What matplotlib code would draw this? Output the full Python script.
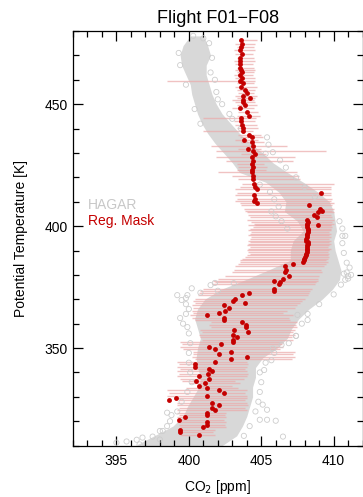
import numpy as np
import matplotlib
matplotlib.use("Agg")
import matplotlib.pyplot as plt
from matplotlib.ticker import MultipleLocator

plt.rcParams['font.family'] = ['Liberation Sans', 'DejaVu Sans']

# HAGAR cloud: dense core outline (theta, left / right CO2 edge)
env_theta = [478, 474, 470, 466, 462, 458, 454, 450, 446, 442, 438, 434, 430, 426,
             422, 418, 414, 410, 406, 402, 398, 394, 390, 386, 382, 378, 374, 370,
             366, 362, 358, 354, 350, 346, 342, 338, 334, 330, 326, 322, 318, 314, 310]
env_left = [400.1, 399.6, 399.4, 399.5, 399.8, 400.1, 400.2, 400.4, 400.6, 400.9, 401.3, 401.8, 402.4, 403.0,
            403.5, 405.3, 406.2, 406.7, 406.6, 407.5, 407.9, 407.2, 407.0, 407.0, 405.5, 403.9, 402.2, 401.1,
            400.6, 400.4, 400.6, 400.8, 400.6, 400.5, 400.6, 400.8, 400.7, 400.3, 399.9, 399.6, 398.9, 397.6, 396.3]
env_right = [401.0, 401.3, 401.5, 401.2, 401.2, 401.4, 401.6, 401.9, 402.3, 402.9, 403.5, 404.2, 405.1, 405.8,
             406.8, 407.9, 408.9, 409.7, 410.0, 410.1, 410.2, 410.0, 410.1, 410.3, 410.5, 410.4, 409.9, 409.2,
             408.3, 407.6, 407.1, 406.8, 406.1, 405.1, 404.6, 404.6, 404.4, 404.4, 404.2, 404.0, 403.7, 403.3, 402.3]

# HAGAR sparse points around the core
hagar_theta = [478, 477, 475, 471, 469, 466, 463, 460, 458, 455, 452, 450, 448, 446, 444, 442, 440,
               436.4, 433.4, 430.3, 429.7, 427, 424, 420, 416, 412,
               402, 399, 396, 381, 379.5, 378, 380.5,
               371.7, 369.7, 375.8, 376.7, 376.6, 371.7, 372.7, 373.5, 374.5, 370.5,
               362.3, 358.6, 361.5, 363.6, 351.3, 349.8, 355, 345, 341,
               320.6, 320.6, 320.2, 313.7, 324.7, 326.8, 312.4, 313.3, 323.5, 322.5,
               311.2, 311.7, 313.7, 310.5, 312.5, 316, 318,
               396, 393, 389, 385, 383, 380, 378.5, 376, 372, 368, 364, 360, 355, 352,
               404, 406, 408, 411, 414, 417, 420, 402, 399,
               368, 366, 364, 360, 356, 352, 348, 344, 340, 336, 332, 328, 324, 320, 316,
               348, 344, 340, 336, 332, 328, 324, 318, 314]
hagar_co2 = [400.3, 401.0, 401.4, 399.3, 401.6, 399.4, 401.5, 401.8, 399.8, 401.9, 402.0, 402.3, 400.4, 402.8, 403.0, 400.8, 403.6,
             405.4, 405.5, 405.8, 405.3, 406.3, 406.7, 407.4, 408.0, 408.7,
             410.4, 410.6, 410.6, 410.9, 411.0, 410.8, 410.7,
             399.2, 399.5, 401.5, 401.8, 403.1, 399.9, 400.8, 402.0, 400.2, 399.8,
             399.4, 399.9, 408.2, 407.5, 406.4, 405.8, 407.4, 405.7, 405.2,
             404.9, 405.4, 406.0, 406.5, 405.4, 405.1, 396.4, 396.8, 398.5, 398.8,
             395.0, 395.7, 397.5, 396.6, 398.0, 398.2, 398.5,
             410.8, 410.6, 410.7, 410.9, 411.1, 411.2, 411.0, 410.5, 410.0, 409.0, 408.2, 407.8, 407.4, 406.9,
             406.0, 405.7, 406.2, 405.9, 405.6, 404.9, 404.6, 406.4, 406.8,
             399.8, 400.0, 399.8, 399.6, 400.0, 400.1, 400.0, 400.0, 400.1, 400.2, 399.9, 399.5, 399.2, 398.7, 398.0,
             405.9, 405.3, 404.9, 405.0, 404.9, 404.8, 404.6, 404.2, 403.8]

# Regression mask points with their CO2 range bars
red_theta = [476.2, 474.8, 473.5, 472.1, 470.5, 469.1, 467.5, 466.4, 465.0, 463.9, 463.0, 462.0, 460.9,
             459.6, 458.5, 457.1, 455.8, 454.7, 453.4, 452.5, 451.7,
             450.7, 449.8, 448.4, 446.6, 445.3, 444.3, 442.9, 441.6, 440.2, 438.8, 437.4, 436.4,
             435.5, 434.4, 433.0, 431.7, 430.7, 429.6, 428.2, 426.9, 425.5, 424.4, 423.2,
             422.1, 420.7, 419.4, 417.4, 416.0, 415.3, 412.6, 411.2, 410.5, 409.4,
             413.5, 408.5, 407.1, 406.4, 405.7, 404.7, 403.7, 400.3,
             402.4, 401.7, 401.0, 400.3, 399.6, 398.9, 398.3, 397.6, 396.9, 396.2, 395.5, 394.8, 394.1,
             393.5, 392.8, 392.1, 391.4, 390.8, 390.1, 389.4, 388.7, 388.0, 387.3, 386.7, 386.0, 385.3,
             384.4, 383.6, 382.2, 381.2, 379.6, 378.5, 377.5, 377.1, 376.2, 374.4, 373.5, 372.6,
             371.7, 370.3, 369.4, 368.5, 367.6, 366.3,
             365.3, 364.5, 363.5, 362.2, 361.5, 360.5, 359.4, 358.5, 357.4, 356.7, 355.4, 354.7,
             353.3, 352.4, 351.6, 350.6, 349.5, 348.5, 347.5, 346.5, 345.4, 344.4, 343.5, 342.4,
             341.5, 340.6, 339.4, 338.6, 337.5,
             336.6, 335.6, 334.5, 333.6, 332.6, 331.5, 330.4, 329.5, 328.5, 327.4, 326.5, 325.4,
             324.7, 323.4, 322.7, 321.6, 320.5, 319.6, 318.6, 317.5, 316.5, 315.6, 314.5]
red_co2 = [403.6, 403.65, 403.6, 403.55, 403.65, 403.55, 403.5, 403.5, 403.55, 403.6, 403.7, 403.5, 403.7,
           403.55, 403.75, 403.6, 403.9, 404.05, 403.75, 404.2, 403.75,
           403.77, 403.89, 403.54, 404.0, 404.14, 403.59, 403.63, 403.66, 403.73, 403.77, 404.18, 404.35,
           403.82, 404.35, 404.42, 404.07, 404.42, 404.58, 404.35, 404.42, 404.35, 404.46, 404.35,
           404.35, 404.42, 404.42, 404.5, 404.58, 404.7, 404.5, 404.58, 404.5, 404.7,
           409.12, 408.33, 409.07, 409.19, 408.95, 408.61, 408.84, 408.95,
           408.15, 408.2, 408.19, 408.17, 408.15, 408.2, 408.26, 408.24, 408.19, 408.17, 408.15, 408.12, 408.1,
           408.26, 408.22, 408.19, 408.17, 408.15, 408.15, 408.15, 408.12, 408.1, 408.03, 407.96, 407.92, 407.87,
           407.18, 406.65, 406.72, 406.67, 406.95, 406.49, 405.89, 406.3, 406.24, 405.89, 405.89, 404.14,
           403.66, 403.2, 403.04, 403.87, 402.44, 402.74,
           402.5, 402.11, 401.28, 402.44, 402.44, 403.66, 403.96, 403.94, 403.13, 404.09, 403.08, 403.31,
           403.04, 403.08, 402.2, 401.42, 401.83, 402.94, 402.09, 404.0, 402.9, 401.83, 400.45, 400.45,
           401.42, 401.58, 401.35, 400.73, 401.42,
           400.48, 401.14, 400.73, 401.28, 402.11, 402.44, 401.28, 399.12, 398.63, 401.58, 402.11, 401.58,
           401.83, 401.28, 401.28, 399.74, 399.3, 401.28, 401.28, 401.0, 399.42, 399.42, 400.73]
bar_lo = [403.7, 403.2, 403.3, 403.1, 403.2, 403.3, 403.1, 403.2, 403.3, 403.2, 403.3, 403.1, 403.2,
          398.5, 403.3, 403.2, 403.3, 403.4, 403.2, 403.3, 403.0,
          403.2, 403.3, 403.0, 403.4, 403.3, 401.0, 403.1, 403.2, 403.3, 401.0, 403.4, 403.5,
          403.2, 403.6, 401.5, 403.4, 401.9, 403.6, 401.9, 402.6, 403.3, 403.4, 403.3,
          402.0, 403.0, 403.4, 403.7, 403.5, 403.2, 403.2, 403.3, 403.2, 403.5,
          403.3, 403.6, 403.8, 403.9, 404.0, 404.1, 404.2, 404.1,
          404.0, 404.3, 404.5, 404.6, 404.4, 404.2, 404.1, 404.3, 404.2, 404.1, 404.3, 404.2, 404.1,
          404.2, 404.1, 404.0, 404.2, 404.1, 404.0, 404.1, 404.2, 404.0, 403.9, 403.7, 403.5, 403.5,
          403.4, 403.2, 403.1, 403.0, 402.5, 402.0, 401.7, 401.8, 401.6, 401.0, 400.8, 400.7,
          400.6, 400.4, 400.3, 400.4, 400.2, 400.3,
          400.2, 400.3, 400.1, 400.2, 400.4, 401.5, 401.4, 401.5, 400.8, 400.9, 400.7, 400.8,
          400.9, 399.4, 399.5, 399.4, 399.6, 400.3, 400.3, 400.2, 400.4, 399.2, 399.3, 399.2,
          399.4, 399.2, 399.3, 399.2, 399.4,
          399.5, 400.0, 400.6, 399.8, 398.5, 398.6, 398.5, 399.2, 399.3, 399.2, 399.2, 399.3,
          399.2, 399.2, 399.3, 399.2, 399.3, 399.2, 399.3, 399.4, 399.4, 399.5, 399.4]
bar_hi = [404.7, 404.6, 404.5, 404.6, 404.4, 404.5, 404.6, 404.4, 404.5, 404.6, 404.5, 404.4, 404.6,
          404.6, 404.5, 404.7, 404.6, 404.5, 404.7, 404.6, 404.5,
          404.6, 404.7, 404.5, 404.8, 404.9, 404.65, 404.6, 404.7, 404.8, 404.4, 405.0, 405.1,
          404.8, 405.2, 406.8, 405.0, 409.5, 405.3, 407.3, 407.2, 405.2, 405.4, 405.3,
          407.5, 407.6, 407.7, 410.0, 409.8, 409.8, 409.8, 409.9, 409.8, 410.0,
          409.8, 409.9, 410.0, 409.9, 410.0, 409.8, 409.9, 409.8,
          410.0, 409.9, 410.0, 409.8, 409.9, 409.8, 409.8, 409.7, 409.8, 409.7, 409.8, 409.7, 409.8,
          409.7, 409.8, 409.7, 409.6, 409.8, 409.7, 409.6, 409.7, 409.6, 409.7, 409.6, 409.5, 409.6,
          409.5, 409.3, 409.1, 409.2, 409.0, 408.9, 408.9, 408.8, 408.7, 408.5, 408.4, 408.3,
          408.2, 408.0, 407.8, 407.7, 407.5, 407.3,
          406.8, 406.5, 407.2, 406.9, 407.0, 407.5, 407.4, 407.5, 407.3, 407.2, 407.3, 407.1,
          407.2, 406.5, 406.4, 406.5, 406.3, 407.3, 407.2, 407.3, 407.1, 404.0, 404.1, 404.0,
          403.9, 404.0, 404.1, 404.0, 403.8,
          403.2, 403.5, 403.0, 403.4, 404.0, 403.9, 404.0, 404.0, 403.9, 404.0, 404.1, 403.9,
          404.0, 402.6, 402.5, 402.6, 402.4, 402.6, 402.5, 402.6, 401.8, 401.7, 401.8]

fig = plt.figure(figsize=(3.63, 4.97), dpi=100)
ax = fig.add_axes([0.201, 0.1034, 0.798, 0.8342])

ax.fill_betweenx(env_theta, env_left, env_right, color='#d8d8d8', lw=0, zorder=1)
ax.hlines(red_theta, bar_lo, bar_hi, colors='#eba9a9', lw=1.0, alpha=0.7, zorder=2)
ax.scatter(hagar_co2, hagar_theta, s=14, facecolors='none', edgecolors='#cdcdcd', linewidths=0.6, zorder=3)
ax.plot(red_co2, red_theta, 'o', color='#c40000', ms=3.5, mew=0, zorder=4)

ax.set_xlim(392, 412)
ax.set_ylim(310, 480)
ax.xaxis.set_major_locator(MultipleLocator(5))
ax.xaxis.set_minor_locator(MultipleLocator(1))
ax.yaxis.set_major_locator(MultipleLocator(50))
ax.yaxis.set_minor_locator(MultipleLocator(10))
ax.tick_params(which='both', direction='in', top=True, right=True, width=0.9, labelsize=10)
ax.tick_params(which='major', length=7.5)
ax.tick_params(which='minor', length=4)
ax.tick_params(axis='x', which='major', pad=6)
for sp in ax.spines.values():
    sp.set_linewidth(0.9)

ax.set_title('Flight F01\u2212F08', fontsize=13, pad=6)
ax.set_xlabel('CO$_2$ [ppm]', fontsize=10, labelpad=7)
ax.set_ylabel('Potential Temperature [K]', fontsize=10, labelpad=12)

ax.text(0.052, 0.58, 'HAGAR', color='#c8c8c8', fontsize=10, transform=ax.transAxes, va='center')
ax.text(0.052, 0.542, 'Reg. Mask', color='#c40000', fontsize=10, transform=ax.transAxes, va='center')

fig.savefig('out.png', dpi=100)
